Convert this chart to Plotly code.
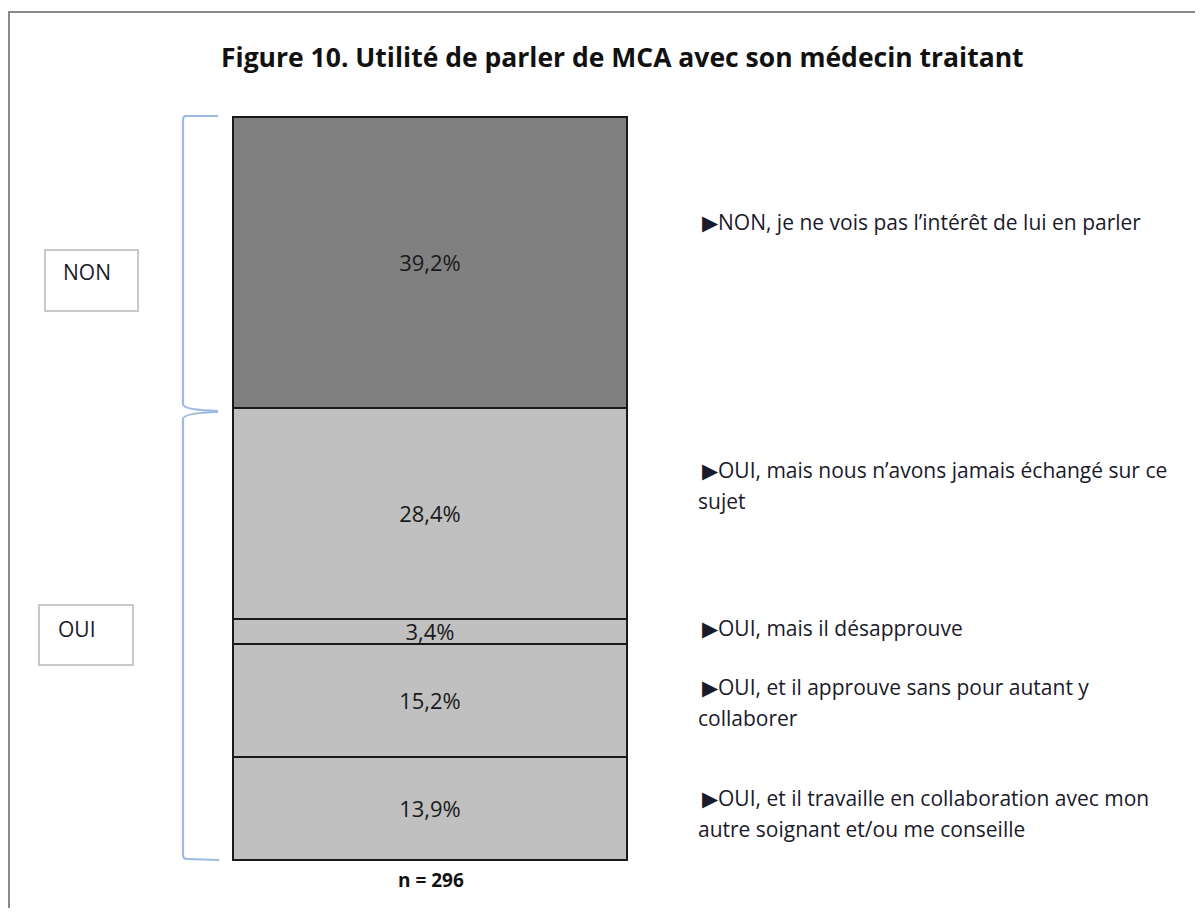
import plotly.graph_objects as go

# ---- data ----
categories = ["OUI, et il travaille en collaboration avec mon autre soignant et/ou me conseille",
              "OUI, et il approuve sans pour autant y collaborer",
              "OUI, mais il désapprouve",
              "OUI, mais nous n’avons jamais échangé sur ce sujet",
              "NON, je ne vois pas l’intérêt de lui en parler"]
values = [13.9, 15.2, 3.4, 28.4, 39.2]
value_labels = ["13,9%", "15,2%", "3,4%", "28,4%", "39,2%"]
seg_colors = ["#c0c0c0", "#c0c0c0", "#c0c0c0", "#c0c0c0", "#808080"]
label_lines = [
    ["▶NON, je ne vois pas l’intérêt de lui en parler"],
    ["▶OUI, mais nous n’avons jamais échangé sur ce", "sujet"],
    ["▶OUI, mais il désapprouve"],
    ["▶OUI, et il approuve sans pour autant y", "collaborer"],
    ["▶OUI, et il travaille en collaboration avec mon", "autre soignant et/ou me conseille"],
]
group_labels = ["NON", "OUI"]
title_text = "Figure 10. Utilité de parler de MCA avec son médecin traitant"
n_text = "n = 296"

W, H = 1187, 900
OFF = 8
FONT = "'Open Sans', Lato, sans-serif"

def px(X):
    return (X - OFF) / W

def py(Y):
    return 1 - (Y - OFF) / H

total = sum(values)
bar_top, bar_bot = 117, 860
ppu = (bar_bot - bar_top) / total
ymin = -(H - (bar_bot - OFF)) / ppu
ymax = (bar_bot - OFF) / ppu
bar_left, bar_right = 233, 627
bw = bar_right - bar_left
xmin = -0.5 - (bar_left - OFF) / bw
xmax = xmin + W / bw

fig = go.Figure()
for v, lab, c, cat in zip(values, value_labels, seg_colors, categories):
    fig.add_trace(go.Bar(
        x=[0], y=[v], width=1, name=cat, text=[lab],
        textposition="inside", insidetextanchor="middle", textangle=0,
        constraintext="none",
        textfont=dict(family=FONT, size=22, color="#1a1a1a"),
        marker=dict(color=c, line=dict(color="#1a1a1a", width=1.6)),
        showlegend=False, hoverinfo="skip"))

shapes = []
# outer frame
shapes.append(dict(type="rect", xref="paper", yref="paper",
                   x0=px(9), y0=py(930), x1=px(1215), y1=py(12),
                   line=dict(color="#8a8a8a", width=2), fillcolor="rgba(0,0,0,0)"))

def P(X, Y):
    return f"{px(X)},{py(Y)}"

brace_color = "#9dbbe2"
shapes.append(dict(type="path", xref="paper", yref="paper",
                   path=f"M {P(218,116)} L {P(186,116)} Q {P(183,116)} {P(183,120)} L {P(183,404)} Q {P(183,410)} {P(218,411)}",
                   line=dict(color=brace_color, width=2.2)))
shapes.append(dict(type="path", xref="paper", yref="paper",
                   path=f"M {P(218,412)} Q {P(183,413)} {P(183,419)} L {P(183,855)} Q {P(183,859)} {P(187,859)} L {P(219,860)}",
                   line=dict(color=brace_color, width=2.2)))
# group boxes
boxes = [(45, 250, 138, 311), (39, 605, 133, 665)]
for (x0, y0, x1, y1) in boxes:
    shapes.append(dict(type="rect", xref="paper", yref="paper",
                       x0=px(x0), y0=py(y1), x1=px(x1), y1=py(y0),
                       line=dict(color="#c8c8c8", width=2), fillcolor="white"))

annotations = []
annotations.append(dict(text=f"<b>{title_text}</b>", xref="paper", yref="paper",
                        x=px(623), y=py(57), xanchor="center", yanchor="middle",
                        showarrow=False, font=dict(family=FONT, size=26.5, color="#111111")))
annotations.append(dict(text=f"<b>{n_text}</b>", xref="paper", yref="paper",
                        x=px(431), y=py(880), xanchor="center", yanchor="middle",
                        showarrow=False, font=dict(family=FONT, size=19, color="#111111")))
group_pos = [(61, 272), (56, 629)]
for g, (gx, gy) in zip(group_labels, group_pos):
    annotations.append(dict(text=g, xref="paper", yref="paper", x=px(gx), y=py(gy),
                            xanchor="left", yanchor="middle", showarrow=False,
                            font=dict(family=FONT, size=21, color="#1a1a2a")))
label_y = [222, 470, 628, 687, 798]
line_gap = 31
for lines, ly in zip(label_lines, label_y):
    for i, t in enumerate(lines):
        annotations.append(dict(text=t, xref="paper", yref="paper",
                                x=px(700 if i == 0 else 696), y=py(ly + i * line_gap),
                                xanchor="left", yanchor="middle", showarrow=False,
                                font=dict(family=FONT, size=21, color="#1a1a2a")))

fig.update_layout(
    width=W, height=H, margin=dict(l=0, r=0, t=0, b=0),
    paper_bgcolor="white", plot_bgcolor="white",
    barmode="stack", shapes=shapes, annotations=annotations,
    xaxis=dict(range=[xmin, xmax], visible=False, fixedrange=True),
    yaxis=dict(range=[ymin, ymax], visible=False, fixedrange=True),
)
fig.write_html("out.html")
